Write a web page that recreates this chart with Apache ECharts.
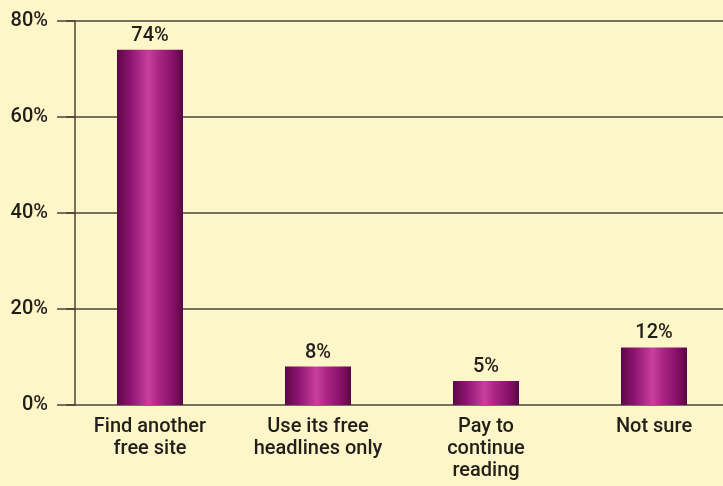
<!DOCTYPE html>
<html>
<head>
<meta charset="utf-8">
<script src="https://cdn.jsdelivr.net/npm/echarts@6/dist/echarts.min.js"></script>
<style>
  html, body { margin: 0; padding: 0; background: #fdf6c9; }
  #chart { width: 723px; height: 486px; }
</style>
</head>
<body>
<div id="chart"></div>
<script>
// Survey responses: what readers would do if a news site started charging
const categories = ['Find another\nfree site', 'Use its free\nheadlines only', 'Pay to\ncontinue\nreading', 'Not sure'];
const shares = [74, 8, 5, 12];
const yTicks = [0, 20, 40, 60, 80];

const FONT = 'Roboto, "Liberation Sans", sans-serif';
const INK = '#221e19';
const RULE = '#4a4436';

const barFill = new echarts.graphic.LinearGradient(0, 0, 1, 0, [
  { offset: 0, color: '#5e0646' },
  { offset: 0.2, color: '#8c1470' },
  { offset: 0.48, color: '#c8409f' },
  { offset: 0.6, color: '#b02a8a' },
  { offset: 0.85, color: '#86106a' },
  { offset: 1, color: '#5a0544' }
]);

const chart = echarts.init(document.getElementById('chart'), null, { renderer: 'canvas' });
chart.setOption({
  backgroundColor: '#fdf6c9',
  animation: false,
  grid: {
    left: 66,
    right: -15,
    top: 21,
    bottom: 81,
    outerBoundsMode: 'none'
  },
  xAxis: {
    type: 'category',
    data: categories,
    axisLine: { show: false },
    axisTick: { show: false },
    axisLabel: {
      color: INK,
      fontFamily: FONT,
      fontSize: 20,
      fontWeight: 500,
      lineHeight: 22,
      margin: 11,
      interval: 0
    }
  },
  yAxis: {
    type: 'value',
    min: 0,
    max: 80,
    interval: 20,
    offset: -9,
    axisLine: { show: true, lineStyle: { color: RULE, width: 1.5 } },
    axisTick: { show: true, length: 18, lineStyle: { color: RULE, width: 1.5 } },
    splitLine: { show: true, lineStyle: { color: RULE, width: 1.5 } },
    axisLabel: {
      formatter: v => yTicks.includes(v) ? v + '%' : '',
      color: INK,
      fontFamily: FONT,
      fontSize: 20,
      fontWeight: 500,
      margin: 27
    }
  },
  series: [{
    type: 'bar',
    data: shares,
    barWidth: 66,
    itemStyle: { color: barFill },
    label: {
      show: true,
      position: 'top',
      distance: 4,
      formatter: p => p.value + '%',
      color: INK,
      fontFamily: FONT,
      fontSize: 20,
      fontWeight: 500
    }
  }]
});
</script>
</body>
</html>
